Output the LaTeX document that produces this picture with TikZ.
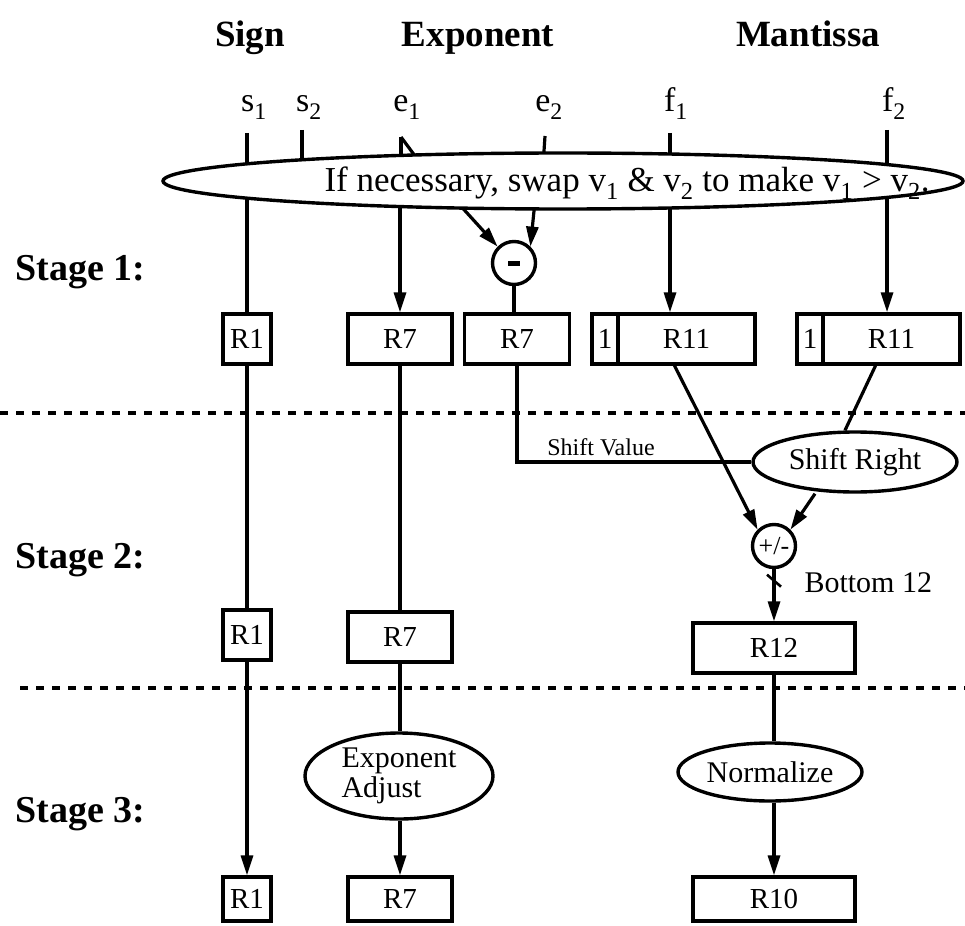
\documentclass[tikz,border=0pt]{standalone}
\usepackage{fontspec}
\setmainfont{Liberation Serif}
\usetikzlibrary{shapes.geometric,arrows.meta,calc,backgrounds}
\begin{document}
\begin{tikzpicture}[x=1pt,y={(0pt,-1pt)},
  wire/.style={line width=3.2pt},
  arr/.style={wire,-{Triangle[length=20pt,width=12pt]}},
  reg/.style={draw,line width=3.4pt,minimum height=50pt,inner sep=0pt,font=\fontsize{29}{31}\selectfont,fill=white},
  hdr/.style={font=\fontsize{37}{40}\selectfont\bfseries,anchor=base},
  stg/.style={font=\fontsize{38}{40}\selectfont\bfseries,anchor=west},
  inlbl/.style={font=\fontsize{34}{36}\selectfont,anchor=base},
  txt/.style={font=\fontsize{30}{33}\selectfont},
  oval/.style={draw,ellipse,line width=3.4pt,inner sep=0pt,fill=white},
  op/.style={draw,circle,line width=3.4pt,minimum size=43pt,inner sep=0pt,fill=white,font=\fontsize{26}{28}\selectfont},
  stagesep/.style={line width=4pt,dash pattern=on 8pt off 8pt}
]
\useasboundingbox (0,0) rectangle (965,925);

% headers
\node[hdr] (hsign) at (250,47) {Sign};
\node[hdr] (hexp) at (478,47) {Exponent};
\node[hdr] (hman) at (808,47) {Mantissa};

% input labels
\node[inlbl] (ls1) at (254,112) {s\textsubscript{1}};
\node[inlbl] (ls2) at (309,112) {s\textsubscript{2}};
\node[inlbl] (le1) at (407,112) {e\textsubscript{1}};
\node[inlbl] (le2) at (549,112) {e\textsubscript{2}};
\node[inlbl] (lf1) at (676,112) {f\textsubscript{1}};
\node[inlbl] (lf2) at (894,112) {f\textsubscript{2}};

% tick tops
\coordinate (ts1) at (247,133);
\coordinate (ts2) at (302,130);
\coordinate (te1) at (401,137);
\coordinate (te1b) at (418,160);
\coordinate (te2) at (545,136);
\coordinate (tf1) at (670,133);
\coordinate (tf2) at (887,130);

% swap ellipse
\node[oval,minimum width=800pt,minimum height=56pt] (swap) at (563,181) {};
\node[font=\fontsize{35}{37}\selectfont] (swaptxt) at (627,183) {If necessary, swap v\textsubscript{1} \& v\textsubscript{2} to make v\textsubscript{1} > v\textsubscript{2}.};

% stage labels
\node[stg] (st1) at (12,272) {Stage 1:};
\node[stg] (st2) at (12,560) {Stage 2:};
\node[stg] (st3) at (12,814) {Stage 3:};

% stage 1
\node[op] (minus) at (514,263) {\rule{12pt}{5pt}};
\node[reg,minimum width=48pt] (r1a) at (247,339) {R1};
\node[reg,minimum width=104pt] (r7a) at (400,339) {R7};
\node[reg,minimum width=105pt] (r7d) at (517,339) {R7};
\node[reg,minimum width=26pt] (one1) at (605,339) {1};
\node[reg,minimum width=137pt] (r11a) at (686.5,339) {R11};
\node[reg,minimum width=26pt] (one2) at (810,339) {1};
\node[reg,minimum width=137pt] (r11b) at (891.5,339) {R11};

% stage 2
\node[oval,minimum width=204pt,minimum height=60pt,txt] (shiftr) at (855,462) {Shift Right};
\node[font=\fontsize{24}{26}\selectfont] (shiftval) at (601,447) {Shift Value};
\node[op] (pm) at (774,546) {+/-};
\node[txt,anchor=west] (b12) at (801,583) {Bottom 12};
\node[reg,minimum width=48pt] (r1b) at (247,635) {R1};
\node[reg,minimum width=104pt] (r7s2) at (400,637) {R7};
\node[reg,minimum width=162pt] (r12) at (774,648) {R12};

% stage 3
\node[oval,minimum width=188pt,minimum height=86pt,txt,align=left] (expadj) at (399,776) {Exponent\\[-3pt]Adjust};
\node[oval,minimum width=184pt,minimum height=58pt,txt] (norm) at (770,772) {Normalize};
\node[reg,minimum width=48pt,minimum height=44pt] (r1c) at (247,899) {R1};
\node[reg,minimum width=104pt,minimum height=44pt] (r7s3) at (400,899) {R7};
\node[reg,minimum width=162pt,minimum height=44pt] (r10) at (774,899) {R10};

% stage separators
\coordinate (sepa) at (0,413);
\coordinate (sepb) at (965,413);
\coordinate (sepc) at (20,688);
\coordinate (sepd) at (965,688);
\draw[stagesep] (sepa) -- (sepb);
\draw[stagesep] (sepc) -- (sepd);

% connectors hidden behind the swap ellipse
\begin{scope}[on background layer]
  \draw[wire] (ts1) -- (ts1 |- swap.center);
  \draw[wire] (ts2) -- (ts2 |- swap.center);
  \draw[wire] (te1) -- (te1 |- swap.center);
  \draw[wire] (te1) -- (te1b);
  \draw[wire] (te2) -- (542,181);
  \draw[wire] (tf1) -- (tf1 |- swap.center);
  \draw[wire] (tf2) -- (tf2 |- swap.center);
  \draw[wire] (r1a.north |- swap.center) -- (r1a.north);
  \draw[arr] (r7a.north |- swap.center) -- (r7a.north);
  \draw[arr] (438,181) -- (minus.north west);
  \draw[arr] (537,181) -- (minus.north east);
  \draw[arr] (tf1 |- swap.center) -- (tf1 |- r11a.north);
  \draw[arr] (tf2 |- swap.center) -- (tf2 |- r11b.north);
\end{scope}

% stage 1 -> 2
\draw[wire] (minus.south) -- (minus.south |- r7d.north);
\draw[wire] (r1a) -- (r1b);
\draw[wire] (r7a) -- (r7s2);
\draw[wire] (r7d.south) |- (shiftr.west);
\draw[wire] ([xshift=-16pt]r11b.south) -- ([xshift=-10pt]shiftr.north);
\draw[arr] ([xshift=-12pt]r11a.south) -- (pm.north west);
\draw[arr] ([xshift=-40pt]shiftr.south) -- (pm.north east);
\draw[arr] (pm) -- (r12);
\coordinate (bt) at ($(pm.south)!0.22!(r12.north)$);
\draw[line width=2.6pt] ([shift={(-7,-6)}]bt) -- ([shift={(7,6)}]bt);

% stage 2 -> 3
\draw[arr] (r1b) -- (r1c);
\draw[wire] (r7s2) -- (r7s2 |- expadj.north);
\draw[arr] (r7s2 |- expadj.south) -- (r7s3);
\draw[wire] (r12) -- (r12 |- norm.north);
\draw[arr] (r12 |- norm.south) -- (r10);
\end{tikzpicture}
\end{document}
